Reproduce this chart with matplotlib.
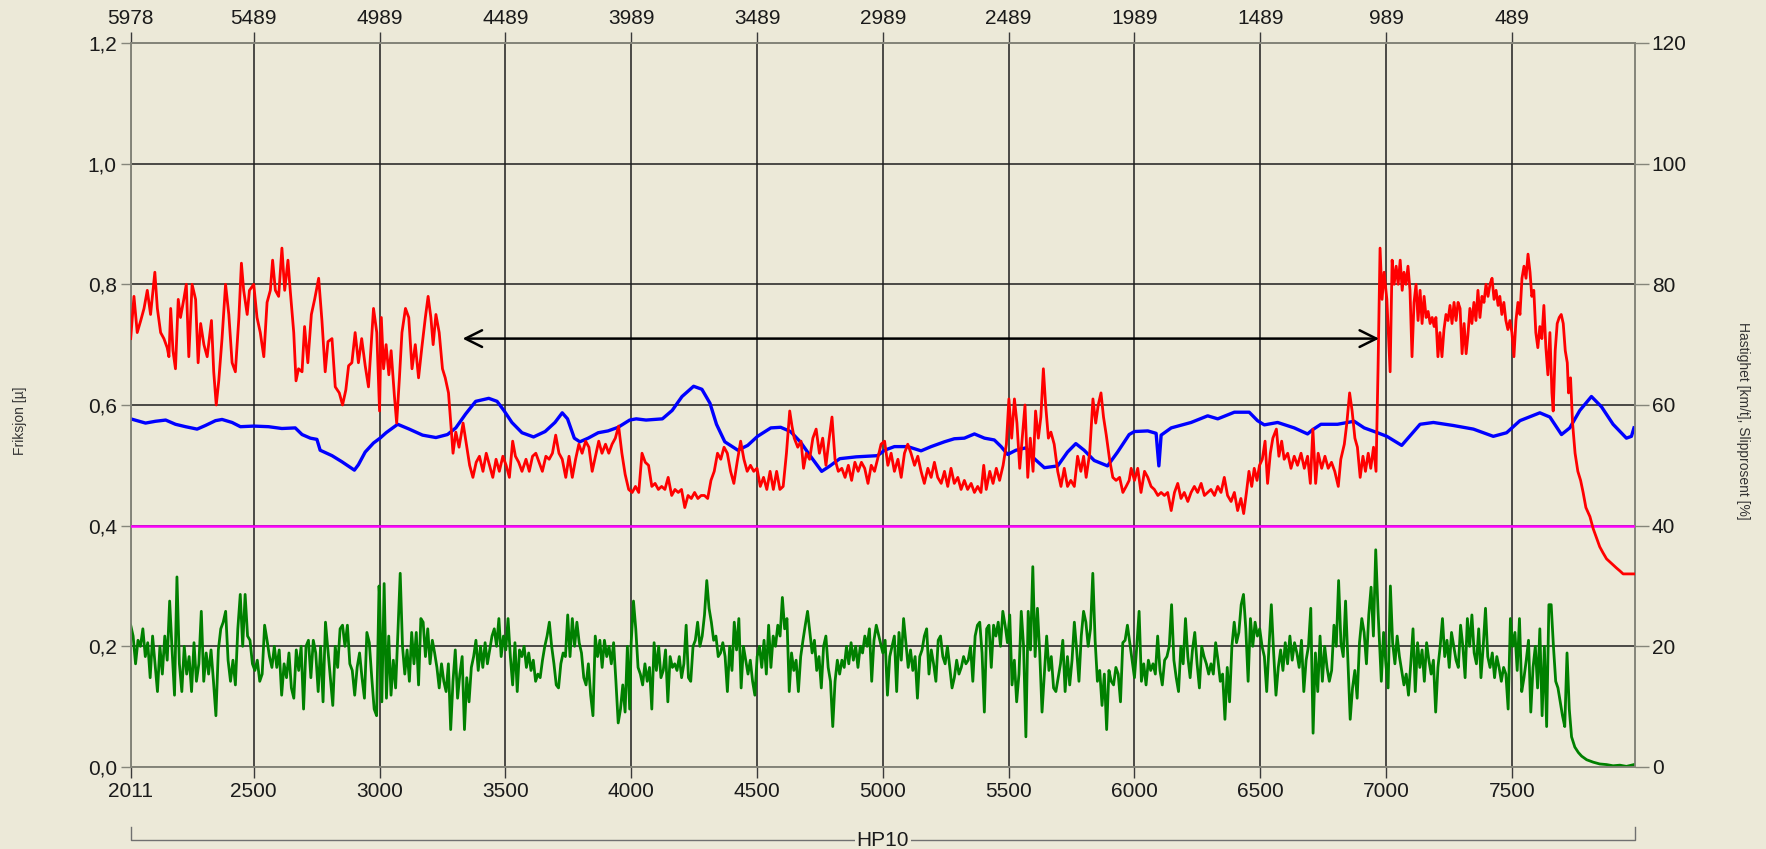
import numpy as np
import matplotlib
matplotlib.use("Agg")
import matplotlib.pyplot as plt

plt.rcParams['font.family'] = ['Liberation Sans', 'DejaVu Sans']

# ---------------- data ----------------
x_start, x_end = 2011, 7989
bottom_ticks = [2011, 2500, 3000, 3500, 4000, 4500, 5000, 5500, 6000, 6500, 7000, 7500]
top_ticks = [5978, 5489, 4989, 4489, 3989, 3489, 2989, 2489, 1989, 1489, 989, 489]
friction_ticks = [0.0, 0.2, 0.4, 0.6, 0.8, 1.0, 1.2]
friction_labels = ["0,0", "0,2", "0,4", "0,6", "0,8", "1,0", "1,2"]
right_ticks = [0, 20, 40, 60, 80, 100, 120]
threshold = 0.4
arrow_from, arrow_to, arrow_level = 3330, 6972, 0.71
section_label = "HP10"

# Friksjon (red) : (distance, friction)
friction_points = [
    (2011,0.71),(2024,0.78),(2037,0.72),(2051,0.74),(2064,0.76),(2077,0.79),(2090,0.75),(2107,0.82),(2117,0.76),(2130,0.72),
    (2143,0.71),(2156,0.695),(2163,0.68),(2170,0.76),(2179,0.69),(2189,0.66),(2200,0.775),(2209,0.745),(2222,0.775),(2232,0.80),
    (2242,0.68),(2255,0.80),(2269,0.775),(2279,0.67),(2289,0.735),(2302,0.70),(2315,0.68),(2332,0.74),(2341,0.655),(2351,0.60),
    (2361,0.64),(2374,0.71),(2388,0.80),(2401,0.75),(2414,0.67),(2427,0.655),(2441,0.745),(2451,0.835),(2460,0.79),(2474,0.75),
    (2483,0.79),(2500,0.80),(2513,0.745),(2526,0.72),(2540,0.68),(2553,0.77),(2566,0.79),(2575,0.84),(2586,0.79),(2599,0.78),
    (2612,0.86),(2623,0.79),(2636,0.84),(2645,0.79),(2659,0.72),(2668,0.64),(2678,0.66),(2692,0.655),(2702,0.73),(2715,0.67),
    (2729,0.75),(2742,0.775),(2758,0.81),(2771,0.74),(2784,0.655),(2795,0.705),(2811,0.71),(2824,0.63),(2840,0.62),(2853,0.60),
    (2866,0.625),(2877,0.665),(2890,0.67),(2903,0.72),(2916,0.67),(2929,0.71),(2943,0.665),(2956,0.63),(2976,0.76),(2989,0.72),
    (3000,0.59),
    (3007,0.745),(3016,0.66),(3026,0.70),(3037,0.65),(3046,0.69),(3059,0.615),(3068,0.57),(3079,0.645),(3089,0.72),(3103,0.76),
    (3116,0.745),(3129,0.66),(3142,0.70),(3155,0.645),(3168,0.695),(3182,0.745),(3193,0.78),(3204,0.745),(3213,0.70),(3224,0.75),
    (3237,0.72),(3250,0.66),(3261,0.645),(3274,0.62),(3283,0.57),(3292,0.52),(3303,0.555),(3316,0.53),(3332,0.57),(3345,0.535),
    (3358,0.50),(3371,0.48),(3384,0.505),(3397,0.515),(3411,0.49),(3424,0.52),(3437,0.50),(3450,0.48),(3463,0.51),(3476,0.49),
    (3490,0.515),(3503,0.50),(3516,0.48),(3529,0.54),(3540,0.515),(3553,0.505),(3566,0.49),(3582,0.51),(3595,0.49),(3608,0.515),
    (3621,0.52),(3634,0.505),(3647,0.49),(3661,0.515),(3674,0.51),(3687,0.52),(3700,0.55),(3713,0.52),(3726,0.51),(3740,0.48),
    (3753,0.515),(3766,0.48),(3779,0.51),(3792,0.535),(3805,0.52),(3819,0.54),(3832,0.53),(3845,0.49),(3858,0.515),(3871,0.54),
    (3884,0.52),(3898,0.535),(3911,0.52),(3924,0.535),(3937,0.545),(3950,0.565),(3963,0.52),(3976,0.485),(3990,0.46),
    (4004,0.455),(4017,0.465),(4030,0.455),(4043,0.52),(4056,0.505),(4069,0.50),(4082,0.465),(4095,0.47),(4108,0.46),(4121,0.465),
    (4134,0.46),(4147,0.48),(4161,0.45),(4174,0.46),(4187,0.455),(4200,0.46),(4213,0.43),(4226,0.45),(4239,0.445),(4252,0.455),
    (4265,0.445),(4278,0.45),(4291,0.45),(4304,0.445),(4317,0.475),(4330,0.49),(4343,0.52),(4356,0.51),(4369,0.53),(4382,0.52),
    (4395,0.49),(4408,0.47),(4421,0.505),(4435,0.54),(4448,0.51),(4461,0.49),(4474,0.50),(4487,0.49),(4500,0.495),(4513,0.465),
    (4526,0.48),(4539,0.46),(4552,0.49),(4565,0.46),(4578,0.49),(4591,0.46),(4604,0.465),(4617,0.52),(4630,0.59),(4639,0.565),
    (4648,0.545),(4662,0.53),(4675,0.54),(4685,0.495),(4696,0.52),(4709,0.51),(4722,0.545),(4735,0.56),(4748,0.52),(4761,0.545),
    (4774,0.50),(4787,0.545),(4798,0.58),(4810,0.51),(4823,0.49),(4837,0.495),(4850,0.48),(4863,0.50),(4876,0.475),(4889,0.505),
    (4902,0.49),(4915,0.505),(4928,0.495),(4941,0.47),(4954,0.50),(4967,0.49),(4979,0.51),
    (4993,0.535),(5007,0.54),(5020,0.50),(5033,0.52),(5046,0.49),(5060,0.51),(5073,0.48),(5086,0.52),(5099,0.535),(5112,0.52),
    (5126,0.50),(5139,0.515),(5152,0.49),(5165,0.47),(5179,0.495),(5192,0.48),(5205,0.505),(5218,0.48),(5232,0.47),(5245,0.49),
    (5258,0.465),(5271,0.495),(5284,0.47),(5298,0.48),(5311,0.46),(5324,0.475),(5337,0.46),(5351,0.47),(5364,0.455),(5377,0.465),
    (5390,0.455),(5401,0.50),(5411,0.46),(5425,0.49),(5438,0.47),(5451,0.495),(5464,0.475),(5478,0.50),(5491,0.535),(5501,0.61),
    (5512,0.545),(5523,0.61),(5533,0.57),(5544,0.495),(5554,0.545),(5565,0.60),(5576,0.48),(5586,0.545),(5597,0.49),(5607,0.59),
    (5618,0.545),(5628,0.58),(5638,0.66),(5647,0.60),(5658,0.545),(5668,0.555),(5681,0.535),(5695,0.49),(5708,0.465),(5721,0.495),
    (5734,0.465),(5747,0.475),(5761,0.465),(5774,0.515),(5787,0.49),(5798,0.515),(5808,0.48),(5822,0.52),(5835,0.61),(5846,0.57),
    (5856,0.60),(5867,0.62),(5877,0.58),(5888,0.55),(5901,0.51),(5914,0.48),(5927,0.475),(5941,0.48),(5954,0.455),(5967,0.465),
    (5979,0.475),
    (5987,0.495),(6000,0.475),(6013,0.495),(6026,0.455),(6040,0.49),(6053,0.48),(6066,0.465),(6079,0.46),(6093,0.45),(6106,0.455),
    (6119,0.45),(6132,0.455),(6146,0.425),(6159,0.455),(6172,0.47),(6185,0.445),(6198,0.455),(6212,0.44),(6225,0.455),(6238,0.465),
    (6251,0.455),(6265,0.47),(6278,0.45),(6291,0.455),(6304,0.46),(6318,0.45),(6331,0.465),(6344,0.455),(6357,0.48),(6370,0.45),
    (6384,0.44),(6397,0.455),(6410,0.425),(6423,0.445),(6434,0.42),(6445,0.455),(6455,0.49),(6466,0.465),(6476,0.495),(6487,0.475),
    (6497,0.50),(6508,0.51),(6519,0.54),(6529,0.47),(6540,0.52),(6550,0.545),(6564,0.56),(6574,0.515),(6585,0.54),(6595,0.51),
    (6609,0.52),(6622,0.495),(6635,0.515),(6648,0.50),(6662,0.52),(6675,0.495),(6688,0.515),(6699,0.47),(6709,0.56),(6720,0.47),
    (6730,0.52),(6744,0.495),(6757,0.515),(6770,0.495),(6783,0.505),(6796,0.49),(6810,0.465),(6820,0.51),(6834,0.535),(6844,0.57),
    (6855,0.62),(6865,0.59),(6876,0.545),(6886,0.53),(6897,0.48),(6908,0.515),(6918,0.49),(6929,0.52),(6939,0.495),(6950,0.53),
    (6960,0.49),
    (6968,0.66),(6976,0.86),(6984,0.775),(6992,0.82),(7003,0.775),(7011,0.70),(7016,0.655),(7024,0.84),(7032,0.80),(7040,0.83),
    (7048,0.80),(7056,0.84),(7064,0.79),(7071,0.82),(7079,0.80),(7087,0.83),(7095,0.79),(7103,0.68),(7111,0.77),(7119,0.80),
    (7127,0.74),(7135,0.79),(7143,0.735),(7151,0.78),(7159,0.745),(7167,0.755),(7175,0.735),(7183,0.745),(7191,0.73),(7198,0.745),
    (7206,0.68),(7214,0.72),(7222,0.68),(7230,0.725),(7238,0.75),(7246,0.74),(7254,0.765),(7262,0.735),(7270,0.77),(7278,0.74),
    (7286,0.77),(7294,0.76),(7302,0.685),(7310,0.735),(7318,0.685),(7325,0.715),(7333,0.76),(7341,0.735),(7349,0.77),(7357,0.74),
    (7365,0.79),(7373,0.745),(7381,0.78),(7389,0.77),(7397,0.80),(7405,0.78),(7413,0.80),(7421,0.81),(7429,0.775),(7437,0.79),
    (7445,0.765),(7452,0.78),(7460,0.75),(7468,0.77),(7476,0.74),(7484,0.725),(7492,0.74),(7500,0.72),(7508,0.68),(7516,0.74),
    (7524,0.77),(7532,0.75),(7540,0.81),(7548,0.83),(7556,0.81),(7564,0.85),(7572,0.82),(7579,0.78),(7587,0.79),(7595,0.72),
    (7603,0.695),(7611,0.73),(7619,0.71),(7627,0.765),(7635,0.695),(7643,0.65),(7651,0.72),(7659,0.62),(7664,0.59),(7672,0.69),
    (7680,0.735),(7688,0.745),(7696,0.75),(7704,0.735),(7712,0.69),(7720,0.67),(7725,0.62),(7733,0.645),(7741,0.57),(7751,0.52),
    (7762,0.49),(7773,0.475),(7783,0.455),(7794,0.43),(7810,0.415),(7823,0.395),(7836,0.38),(7849,0.365),(7862,0.355),(7876,0.345),
    (7889,0.34),(7902,0.335),(7915,0.33),(7929,0.325),(7942,0.32),(7955,0.32),(7968,0.32),(7985,0.32),
]

# Hastighet (blue) : (distance, km/t)
speed_points = [
    (2011,57.7),(2044,57.3),(2070,57.0),(2110,57.3),(2150,57.5),(2189,56.8),(2229,56.4),(2275,56.0),(2308,56.6),(2348,57.4),
    (2374,57.6),(2414,57.1),(2447,56.4),(2500,56.5),(2559,56.4),(2612,56.1),(2665,56.2),(2692,55.1),(2725,54.5),(2751,54.3),
    (2764,52.5),(2811,51.6),(2850,50.6),(2900,49.2),(2916,50.1),(2943,52.2),(2976,53.7),(3002,54.5),(3026,55.4),(3072,56.8),
    (3118,56.0),(3171,55.0),(3224,54.6),(3270,55.1),(3303,56.2),(3342,58.5),(3382,60.6),(3434,61.1),(3467,60.6),(3494,59.1),
    (3526,57.1),(3566,55.4),(3612,54.7),(3658,55.6),(3697,57.1),(3726,58.7),(3747,57.7),(3774,54.5),(3796,53.9),(3829,54.5),
    (3869,55.4),(3908,55.7),(3948,56.3),(3994,57.5),(4020,57.7),(4059,57.5),(4124,57.7),(4163,59.1),(4202,61.4),(4248,63.1),
    (4281,62.6),(4313,60.3),(4339,56.8),(4372,53.9),(4424,52.5),(4463,53.3),(4502,54.8),(4555,56.2),(4594,56.3),(4633,55.6),
    (4672,53.9),(4711,51.6),(4757,49.0),(4790,49.9),(4829,51.1),(4894,51.4),(4979,51.6),(5007,52.5),(5046,53.1),(5099,53.1),
    (5152,52.4),(5192,53.1),(5245,53.9),(5284,54.4),(5324,54.5),(5364,55.2),(5404,54.5),(5443,54.2),(5470,53.1),(5496,51.8),
    (5529,52.5),(5569,52.9),(5602,51.1),(5642,49.6),(5695,49.9),(5734,52.2),(5767,53.6),(5800,52.5),(5840,50.8),(5893,49.9),
    (5933,52.2),(5979,55.1),(6000,55.6),(6053,55.7),(6086,55.3),(6097,49.9),(6106,55.0),(6146,56.2),(6225,57.1),(6291,58.2),
    (6331,57.7),(6397,58.8),(6456,58.8),(6489,57.4),(6516,56.7),(6569,57.1),(6635,56.2),(6688,55.2),(6708,55.9),(6741,56.8),
    (6807,56.8),(6873,57.3),(6913,56.2),(6966,55.4),(7003,54.8),(7062,53.3),(7135,56.8),(7188,57.1),(7267,56.6),(7347,56.0),
    (7426,54.8),(7479,55.4),(7532,57.4),(7611,58.7),(7651,58.0),(7697,55.1),(7730,56.2),(7770,59.1),(7816,61.4),(7856,59.7),
    (7902,56.8),(7955,54.5),(7975,54.8),(7985,56.2),
]

# Slipprosent (green), read at evenly spaced positions within each stretch
slip_2011_2998 = [23.5,21.7,17.1,21,20,22.9,18.3,20.6,14.8,21.7,17.1,12.5,20,15.4,21.7,17.7,27.5,19.4,11.9,31.5,
    17.1,12.5,20,15.4,18.3,12.5,20.6,14.2,17.1,25.8,14.2,18.9,15.4,19.4,14.2,8.5,19.4,22.9,24,25.8,
    17.7,14.2,17.7,13.6,22.9,28.6,20,28.6,21.7,21,17.1,16,17.7,14.2,15.4,23.5,21,18.3,16.5,20,
    16.5,19.4,11.9,17.1,14.8,18.9,13.1,11.4,19.4,16,20,9.6,20,21,14.8,21,18.9,12.5,20,10.8,
    24,19.4,14.8,10.2,20,16.5,22.9,23.5,20,23.5,17.1,16,11.9,16.5,18.9,14.8,11.4,22.3,20.6,14.8,9.6,8.5,30]
slip_3000_3994 = [28.6,10.8,30.4,11.4,21.7,11.9,17.7,13.1,22.3,32.1,20,15.4,19.4,14.2,22.3,17.1,22.3,13.6,24.6,24,
    18.3,22.9,17.1,21,18.9,16.5,13.1,17.1,14.2,12.5,17.1,6.2,14.2,19.4,11.4,15.4,18.3,6.2,14.8,10.8,
    16.5,18.3,21,16,20,16.5,20.6,17.1,19.4,21.7,22.9,20,24.6,18.3,21.7,19.4,24.6,18.3,13.6,20.6,
    12.5,19.4,18.3,20,16.5,18.9,16,17.7,14.2,15.4,14.8,17.7,20,21.7,24,20,17.1,13.6,13.1,17.1,
    18.9,18.3,25.2,18.3,24.6,20,24,20.6,18.9,14.8,13.6,17.1,11.9,8.5,21.7,18.3,21,16.5,21,18.3,
    20,17.1,20.6,14.2,7.3,9.6,13.6,9.1,20,9.6]
slip_4000_4974 = [20.6,27.5,22.9,16.5,15.4,13.6,17.1,14.2,16.5,9.6,20.6,16,20,14.8,16,19.4,10.8,18.3,16.5,17.1,
    16,18.3,14.8,17.1,23.5,14.8,14.2,20,21,24,20,21.7,25.2,30.9,26.3,24,21,21.7,18.3,18.9,
    20.6,18.3,12.5,20,16,24,19.4,24.6,13.1,20,17.7,15.4,17.7,14.2,11.9,18.3,20,16.5,21,15.4,
    23.5,16.5,21.7,20,23.5,21.7,28.1,22.9,24.6,12.5,18.9,16,17.7,12.5,18.3,21,23.5,25.8,22.3,18.9,
    21,16,18.3,13.1,20,21.7,16.5,14.2,6.7,14.2,17.7,15.4,17.7,16.5,20,17.1,20.6,17.7,20,16.5,
    20,18.9,21.7,20,22.9,14.2,21,23.5]
slip_5000_5972 = [18.9,21,11.9,18.3,20,21.7,12.5,22.3,17.7,24.6,20.6,16.5,19.4,16,18.3,11.4,18.3,19.4,21.7,22.9,
    15.4,19.4,17.1,14.2,21,21.7,18.3,17.1,20,16.5,13.1,14.8,17.7,15.4,16.5,18.3,17.1,17.7,20,14.2,
    21.7,23.5,24,18.9,9.1,22.9,23.5,16.5,23.5,21.7,24,20,25.8,23.5,20.6,25.2,13.6,17.7,10.8,15.4,
    25.8,20,5,25.8,19.4,33.2,18.3,26.3,18.9,9.1,15.4,21.7,16,18.3,13.1,12.5,14.8,17.1,21,12.5,
    18.3,13.6,17.7,24,19.4,14.2,21.7,25.8,24,20,22.9,32.1,21,14.2,16,10.2,15.4,6.2,16,14.2,
    13.6,16.5,15.4,10.8,20.6,21,23.5]
slip_6000_6968 = [14.8,20,25.8,14.2,17.1,13.6,17.7,16,17.1,15.4,21.7,16,13.6,17.7,18.3,20,26.9,17.7,14.8,12.5,
    20,17.1,24.6,18.3,14.8,19.4,22.3,17.1,13.1,20,18.3,17.1,15.4,17.1,15.4,20.6,17.7,14.2,15.4,7.9,
    16.5,10.8,20,24,20.6,22.3,26.9,28.6,22.9,14.2,24.6,20,24,21.7,22.9,20,18.3,12.5,20,26.9,
    18.9,11.9,16.5,19.4,16,20.6,17.1,21.7,17.7,20.6,18.9,16.5,21,12.5,17.7,20,26.3,5.6,18.9,12.5,
    21.7,14.2,20,16.5,14.2,16,23.5,20,30.9,20.6,18.3,27.5,17.7,7.9,13.1,16,11.4,20.6,24.6,22.3,
    17.1,25.2,29.8,21.7,36,25.8]
slip_6981_7737 = [14.2,22.3,17.1,13.1,30,20.6,17.1,21.7,18.3,16,13.6,15.4,11.9,17.1,22.9,12.5,20.6,16.5,19.4,14.2,
    20.6,17.7,15.4,17.7,9.1,16.5,20,24.6,18.3,21,16.5,22.3,20,17.7,16.5,23.5,20,14.8,24.6,20,
    25.2,18.9,17.1,22.9,14.8,20,26.3,18.3,16.5,18.9,14.8,18.3,16.5,14.2,16.5,15.4,9.6,24.6,20,22.3,
    16,24.6,12.5,14.8,17.7,21,9.1,16.5,20,13.1,22.9,8.5,20,6.7,26.9,26.9,20,14.2,13.1,10.8,
    8.5,6.7,18.9,9.6,5]
slip_stretches = [
    (2011, 2998, slip_2011_2998),
    (3000, 3994, slip_3000_3994),
    (4000, 4974, slip_4000_4974),
    (5000, 5972, slip_5000_5972),
    (6000, 6968, slip_6000_6968),
    (6981, 7737, slip_6981_7737),
]
slip_tail = [(7750,3.3),(7764,2.4),(7777,1.8),(7797,1.2),(7823,0.8),(7849,0.5),(7876,0.4),
             (7902,0.2),(7929,0.3),(7955,0.1),(7985,0.4)]

# ---------------- prepare ----------------
fr_x, fr_y = map(np.array, zip(*friction_points))
sp_x, sp_y = map(np.array, zip(*speed_points))
sl_x = np.concatenate([np.linspace(a, b, len(v)) for a, b, v in slip_stretches] +
                      [np.array([p[0] for p in slip_tail])])
sl_y = np.concatenate([np.array(v, float) for _, _, v in slip_stretches] +
                      [np.array([p[1] for p in slip_tail])])

# ---------------- style ----------------
BG = '#ECE9D8'
SPINE = '#85857a'
GRID = '#1e1e1e'
TXT = '#1a1a1a'
FS = 15

fig = plt.figure(figsize=(17.66, 8.49), dpi=100, facecolor=BG)
ax = fig.add_axes([0.0740, 0.0966, 0.8518, 0.8528])
ax2 = ax.twinx()
ax.set_zorder(2)
ax2.set_zorder(1)
ax.patch.set_visible(False)
ax2.patch.set_visible(True)
ax2.patch.set_facecolor(BG)

ax.set_xlim(x_start, x_end)
ax.set_ylim(0, 1.2)
ax2.set_ylim(0, 120)

ax.set_xticks(bottom_ticks, labels=[str(t) for t in bottom_ticks])
ax.set_yticks(friction_ticks, labels=friction_labels)
ax2.set_yticks(right_ticks, labels=[str(t) for t in right_ticks])

# grid on the back axes
ax2.xaxis.set_visible(True)
ax2.tick_params(axis='x', which='both', bottom=False, top=False, labelbottom=False, labeltop=False)
ax2.grid(True, axis='both', color=GRID, linewidth=1.1)
ax2.set_axisbelow(True)

# series on back axes (right scale)
ax2.plot(sl_x, sl_y, color='#008000', linewidth=2.0, zorder=3)
ax2.plot(sp_x, sp_y, color='#0000FF', linewidth=2.4, zorder=4)

# front axes (left scale)
ax.axhline(threshold, color='#FF00FF', linewidth=1.8, zorder=3)
ax.plot(fr_x, fr_y, color='#FF0000', linewidth=2.0, zorder=4)
ax.annotate('', xy=(arrow_from, arrow_level), xytext=(arrow_to, arrow_level),
            arrowprops=dict(arrowstyle='<->', color='black', lw=1.8, mutation_scale=30,
                            shrinkA=0, shrinkB=0), zorder=5)

for a in (ax, ax2):
    for s in a.spines.values():
        s.set_color(SPINE)
        s.set_linewidth(1.2)

ax.tick_params(axis='x', direction='out', length=8, width=1.0, color='#3a3a3a',
               labelsize=FS, labelcolor=TXT, pad=3)
ax.tick_params(axis='y', direction='out', length=7, width=1.0, color=SPINE,
               labelsize=FS, labelcolor=TXT, pad=3)
ax2.tick_params(axis='y', direction='out', length=10, width=1.0, color=SPINE,
                labelsize=FS, labelcolor=TXT, pad=2)

flip = lambda v: (x_start + top_ticks[0]) - v
sec = ax.secondary_xaxis('top', functions=(flip, flip))
sec.set_xticks(top_ticks, labels=[str(t) for t in top_ticks])
sec.tick_params(axis='x', direction='out', length=8, width=1.0, color='#3a3a3a',
                labelsize=FS, labelcolor=TXT, pad=3)
sec.spines['top'].set_color(SPINE)
sec.spines['top'].set_linewidth(1.2)

# axis titles
fig.text(20/1766, 0.5 + 0.004, 'Friksjon [µ]', rotation=90, ha='center', va='center',
         fontsize=10, color='#333333')
fig.text(1743/1766, 0.5 + 0.004, 'Hastighet [km/t], Slipprosent [%]', rotation=-90,
         ha='center', va='center', fontsize=10, color='#333333')

# section bracket
tr = ax.get_xaxis_transform()
ax.plot([x_start, x_start, x_end, x_end], [-0.083, -0.101, -0.101, -0.083],
        transform=tr, clip_on=False, color='#707070', linewidth=1.0)
ax.text((x_start + x_end) / 2, -0.101, section_label, transform=tr, ha='center', va='center',
        fontsize=FS, color=TXT, bbox=dict(facecolor=BG, edgecolor='none', pad=1.0))

fig.savefig('out.png', dpi=100, facecolor=BG)
